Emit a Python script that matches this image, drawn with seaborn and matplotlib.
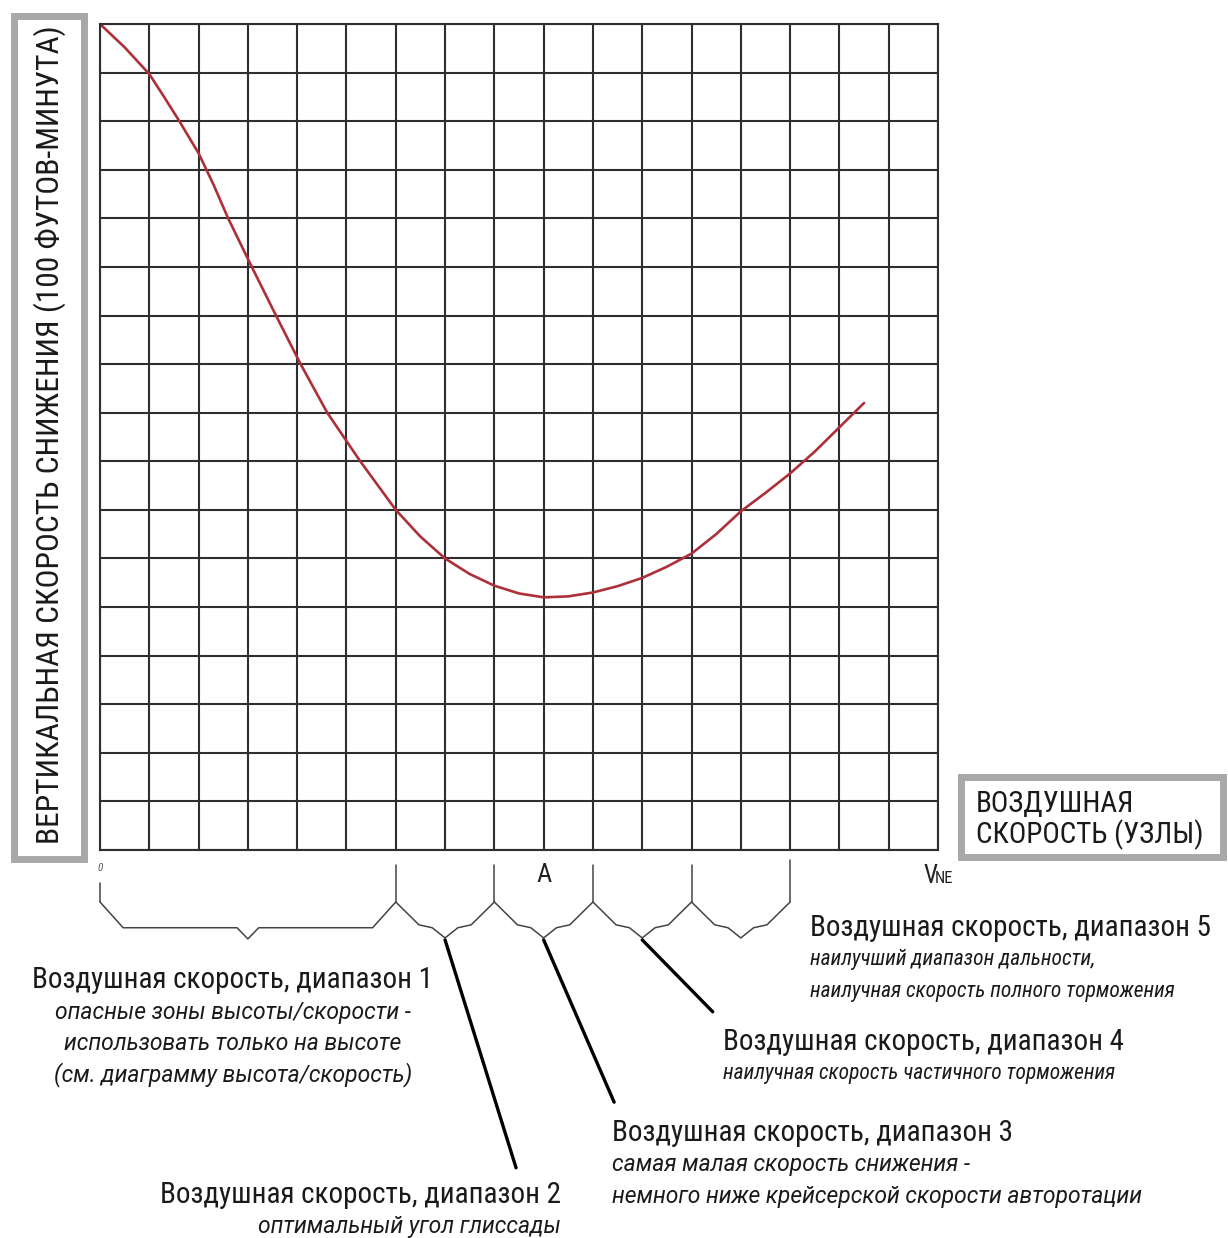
import matplotlib
matplotlib.use("Agg")
import matplotlib.pyplot as plt
from matplotlib.patches import Rectangle
import seaborn as sns
import pandas as pd

# Кривая вертикальной скорости снижения (в клетках сетки)
airspeed = [0, 0.5, 1, 1.3, 1.61, 2, 2.3, 2.6, 3.08, 3.57, 4.07, 4.61, 5.28, 6, 6.5, 7,
            7.5, 8, 8.5, 9, 9.5, 10, 10.5, 11, 11.5, 12, 12.5, 13, 13.5, 14, 14.5, 15, 15.5]
descent = [17, 16.52, 15.97, 15.5, 15, 14.34, 13.7, 13, 12, 11, 10, 9, 8, 7, 6.45, 6,
           5.68, 5.44, 5.28, 5.2, 5.22, 5.3, 5.43, 5.6, 5.83, 6.1, 6.5, 6.97, 7.35, 7.75,
           8.2, 8.7, 9.2]

# Границы диапазонов скорости
range_bounds = [0, 6, 8, 10, 12, 14]
point_a = 9
v_ne = 17

range_titles = ["Воздушная скорость, диапазон 1", "Воздушная скорость, диапазон 2",
                "Воздушная скорость, диапазон 3", "Воздушная скорость, диапазон 4",
                "Воздушная скорость, диапазон 5"]
range_notes = [["опасные зоны высоты/скорости -", "использовать только на высоте",
                "(см. диаграмму высота/скорость)"],
               ["оптимальный угол глиссады"],
               ["самая малая скорость снижения -", "немного ниже крейсерской скорости авторотации"],
               ["наилучная скорость частичного торможения"],
               ["наилучший диапазон дальности,", "наилучная скорость полного торможения"]]

W, H = 1228, 1238
sns.set_style("white")
narrow = ["Roboto Condensed", "Roboto", "DejaVu Sans"]
wide = ["Roboto", "DejaVu Sans"]
plt.rcParams["font.family"] = narrow

fig = plt.figure(figsize=(W / 100, H / 100), dpi=100)
ax = fig.add_axes([100 / W, 1 - 850 / H, 838 / W, 826 / H])

df = pd.DataFrame({"v": airspeed, "vy": descent})
sns.lineplot(data=df, x="v", y="vy", color="#ad3039", linewidth=1.9, ax=ax)

ax.set_xlim(0, 17)
ax.set_ylim(0, 17)
ax.set_xticks(range(18))
ax.set_yticks(range(18))
ax.tick_params(length=0, labelbottom=False, labelleft=False)
ax.grid(True, color="#2e2e2e", linewidth=1.5)
ax.set_axisbelow(True)
for s in ax.spines.values():
    s.set_color("#2e2e2e")
    s.set_linewidth(1.5)
ax.set_xlabel("")
ax.set_ylabel("")


def fx(px):
    return px / W


def fy(py):
    return 1 - py / H


# скобки диапазонов под осью
lc = "#444444"
ax.plot([0, 0], [-0.68, -1.07], color=lc, lw=1.1, clip_on=False)
for i in range(len(range_bounds)):
    x0 = range_bounds[i]
    x1 = range_bounds[i + 1] if i + 1 < len(range_bounds) else None
    if i > 0:
        top = -0.2 if i == len(range_bounds) - 1 else -0.31
        ax.plot([x0, x0], [top, -1.07], color=lc, lw=1.1, clip_on=False)
    if x1 is None:
        continue
    w = x1 - x0
    m = (x0 + x1) / 2
    if w > 2:
        xs = [x0, x0 + 0.47, m - 0.22, m, m + 0.22, x1 - 0.47, x1]
        ys = [-1.07, -1.6, -1.6, -1.83, -1.6, -1.6, -1.07]
    else:
        xs = [x0, x0 + 0.47, x0 + 0.74, m, m + 0.26, x1 - 0.47, x1]
        ys = [-1.07, -1.54, -1.6, -1.81, -1.6, -1.54, -1.07]
    ax.plot(xs, ys, color=lc, lw=1.1, clip_on=False)

# выносные линии
leaders = [(7, 8.44, -6.54), (9, 10.43, -5.19), (11, 12.43, -3.33)]
for xs0, xe, ye in leaders:
    ax.plot([xs0, xe], [-1.85, ye], color="black", lw=2.4, clip_on=False)

ax.text(point_a, -0.52, "A", ha="center", va="center", fontsize=19, color="#222222")
ax.text(0, -0.37, "0", ha="center", va="center", fontsize=8, style="italic", color="#555555")
fig.text(fx(923), fy(883), "V", ha="left", va="baseline", fontsize=18, color="#222222")
fig.text(fx(935), fy(883), "NE", ha="left", va="baseline", fontsize=12, color="#222222")

# рамки подписей осей
fig.patches.append(Rectangle((fx(13.5), fy(858.5)), 70 / W, 843 / H, transform=fig.transFigure,
                             fill=False, edgecolor="#a8a8a8", linewidth=5))
fig.text(fx(50), fy(435), "ВЕРТИКАЛЬНАЯ СКОРОСТЬ СНИЖЕНИЯ (100 ФУТОВ-МИНУТА)", rotation=90,
         ha="center", va="center", fontsize=22.6, color="#1a1a1a")
fig.patches.append(Rectangle((fx(960.5), fy(856.5)), 262 / W, 80 / H, transform=fig.transFigure,
                             fill=False, edgecolor="#a8a8a8", linewidth=5))
fig.text(fx(976), fy(804), "ВОЗДУШНАЯ", ha="left", va="center", fontsize=21, color="#1a1a1a")
fig.text(fx(976), fy(835), "СКОРОСТЬ (УЗЛЫ)", ha="left", va="center", fontsize=21, color="#1a1a1a")

# описания диапазонов
title_pos = [(233, 980, "center"), (561, 1195, "right"), (612, 1133, "left"),
             (723, 1042, "left"), (810, 928, "left")]
note_font = [wide, wide, wide, narrow, narrow]
note_size = [16.5, 16.5, 16.5, 15.5, 15.5]
for k, (px, py, ha) in enumerate(title_pos):
    fig.text(fx(px), fy(py), range_titles[k], ha=ha, va="center", fontsize=21, color="#1a1a1a")
    for j, line in enumerate(range_notes[k]):
        fig.text(fx(px), fy(py + 32 + 31.5 * j), line, ha=ha, va="center", family=note_font[k],
                 fontsize=note_size[k], style="italic", color="#1a1a1a")

fig.savefig("out.png", dpi=100)
